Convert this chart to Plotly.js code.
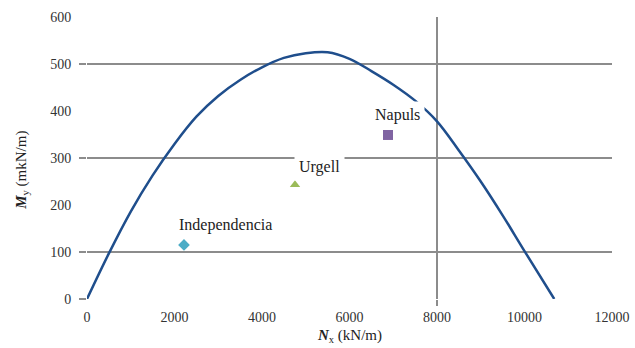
<!DOCTYPE html>
<html>
<head>
<meta charset="utf-8">
<script src="https://cdn.plot.ly/plotly-3.0.1.min.js"></script>
<style>html,body{margin:0;padding:0;background:#fff;} #chart{width:635px;height:348px;}</style>
</head>
<body>
<div id="chart"></div>
<script>
// Interaction curve
const curveN = [0, 500, 1000, 1500, 2000, 2500, 3000, 3500, 4000, 4500, 5000, 5500, 6000, 6500, 7000, 7500, 8000, 8500, 9000, 9500, 10000, 10680];
const curveM = [0, 97, 186, 263, 330, 388, 432, 466, 493, 513, 523, 525, 511, 485, 456, 422, 378, 316, 250, 178, 102, 0];
// Points
const pointNames = ["Independencia", "Urgell", "Napuls"];
const pointN = [2217, 4754, 6880];
const pointM = [115, 243, 349];
const pointSymbols = ["diamond", "triangle-up", "square"];
const pointColors = ["#4BACC6", "#9BBB59", "#8064A2"];
// Axis ticks
const xTicks = [0, 2000, 4000, 6000, 8000, 10000, 12000];
const yTicks = [0, 100, 200, 300, 400, 500, 600];
const yGrid = [0, 100, 300, 500];
const xGrid = [8000];
const xTitle = "<b><i>N</i></b><sub>x</sub> (kN/m)";
const yTitle = "<b><i>M</i></b><sub>y</sub> (mkN/m)";

const serif = "'Liberation Serif', 'Times New Roman', 'DejaVu Serif', serif";
const gridCol = "#8c8c8c";

const traces = [{
  x: curveN, y: curveM, type: "scatter", mode: "lines",
  line: {color: "#1F4E8C", width: 2.5, shape: "spline", smoothing: 1},
  hoverinfo: "skip", showlegend: false
}];
pointNames.forEach((n, i) => {
  traces.push({
    x: [pointN[i]], y: [pointM[i]], type: "scatter", mode: "markers", name: n,
    marker: {symbol: pointSymbols[i], color: pointColors[i], size: i === 2 ? 10 : 9},
    showlegend: false
  });
});
// helper trace for the overlay grid axes
traces.push({x: [0], y: [0], xaxis: "x2", yaxis: "y2", mode: "markers",
  marker: {opacity: 0}, hoverinfo: "skip", showlegend: false});

const shifts = [[42, 20], [25, 18], [9, 20]];
const annotations = pointNames.map((n, i) => ({
  x: pointN[i], y: pointM[i], xref: "x", yref: "y", text: n, showarrow: false,
  xshift: shifts[i][0], yshift: shifts[i][1], bgcolor: "#ffffff", borderpad: 4,
  font: {family: serif, size: 16, color: "#222"}
}));
annotations.push({
  xref: "paper", yref: "paper", x: 0.5, y: -0.13, xanchor: "center", yanchor: "middle",
  text: xTitle, showarrow: false, font: {family: serif, size: 15, color: "#222"}
});
annotations.push({
  xref: "paper", yref: "paper", x: -0.124, y: 0.458, xanchor: "center", yanchor: "middle",
  text: yTitle, textangle: -90, showarrow: false, font: {family: serif, size: 15, color: "#222"}
});

const layout = {
  width: 635, height: 348,
  margin: {l: 87, r: 23, t: 17, b: 49},
  paper_bgcolor: "#fff", plot_bgcolor: "rgba(0,0,0,0)",
  font: {family: serif, size: 14, color: "#333"},
  xaxis: {
    range: [0, 12000], tickvals: xTicks, ticktext: xTicks.map(String),
    showgrid: false, zeroline: false, showline: false,
    ticks: "outside", ticklen: 5, tickcolor: "rgba(0,0,0,0)",
    tickfont: {family: serif, size: 14, color: "#333"}
  },
  yaxis: {
    range: [0, 600], tickvals: yTicks, ticktext: yTicks.map(String),
    showgrid: false, zeroline: false, showline: false,
    ticks: "outside", ticklen: 12, tickcolor: "rgba(0,0,0,0)",
    tickfont: {family: serif, size: 14, color: "#333"}
  },
  xaxis2: {
    overlaying: "x", anchor: "y2", range: [0, 12000], tickvals: xGrid,
    showgrid: true, gridcolor: gridCol, gridwidth: 1.5, zeroline: false,
    showticklabels: false, ticks: "outside", ticklen: 6, tickcolor: gridCol, tickwidth: 1.5
  },
  yaxis2: {
    overlaying: "y", anchor: "x2", range: [0, 600], tickvals: yGrid,
    showgrid: true, gridcolor: gridCol, gridwidth: 1.5, zeroline: false,
    showticklabels: false, ticks: "outside", ticklen: 7, tickcolor: gridCol, tickwidth: 1.5
  },
  annotations: annotations
};

Plotly.newPlot("chart", traces, layout, {staticPlot: true, displayModeBar: false});
</script>
</body>
</html>
